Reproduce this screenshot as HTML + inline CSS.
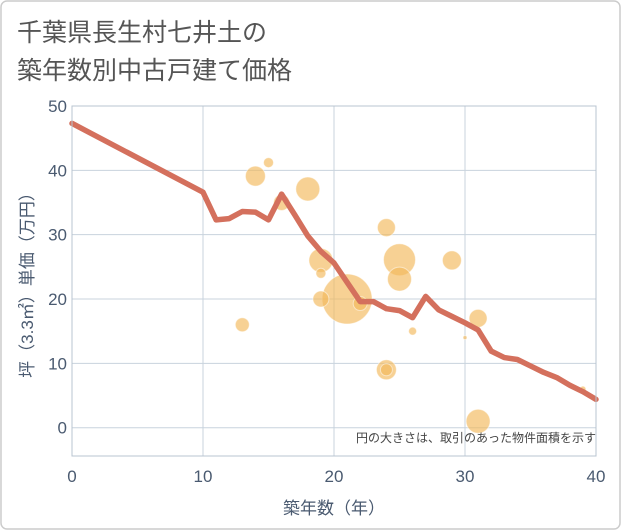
<!DOCTYPE html>
<html><head><meta charset="utf-8"><style>
body{margin:0;background:#fff;}
svg{display:block;font-family:"Liberation Sans","Noto Sans CJK JP",sans-serif;}
</style></head><body>
<svg id="chart" width="621" height="530" viewBox="0 0 621 530">
<rect x="1" y="1" width="619" height="528" rx="6" fill="#fff" stroke="#ccc" stroke-width="1.5"/>
<text x="17" y="41" font-size="25" fill="#555">千葉県長生村七井土の</text>
<text x="17" y="79" font-size="25" fill="#555">築年数別中古戸建て価格</text>
<g id="grid"></g>
<g id="bubbles"></g>
<g id="line"></g>
<g id="axes"></g>
<text x="596" y="442" font-size="12" fill="#444" text-anchor="end">円の大きさは、取引のあった物件面積を示す</text>
<text x="334" y="514" font-size="17" fill="#4a5a70" text-anchor="middle">築年数（年）</text>
<text transform="translate(33,281) rotate(-90)" font-size="17" fill="#4a5a70" text-anchor="middle">坪（3.3㎡）単価（万円）</text>
</svg>
<script>
const xTicks=[0,10,20,30,40];
const yTicks=[0,10,20,30,40,50];
const lineX=[0,10,11,12,13,14,15,16,17,18,19,20,21,22,23,24,25,26,27,28,29,30,31,32,33,34,35,36,37,38,39,40];
const lineY=[47.3,36.6,32.3,32.5,33.6,33.5,32.3,36.3,33.1,29.8,27.4,25.6,22.6,19.6,19.6,18.5,18.2,17.1,20.4,18.3,17.3,16.3,15.2,11.9,10.9,10.6,9.6,8.6,7.8,6.6,5.6,4.4];
const bubX=[14,15,18,16,24,25,25,19,19,29,21,19,22,13,26,30,31,24,24,31,39];
const bubY=[39.1,41.2,37.1,35,31.1,26.1,23.1,26,24,26,20,20,19.3,16,15,14,17,9,9,1,6];
const bubR=[10,5,12,8,9,16,12,12,5,9.5,25,8,7,7,4,2,9,10,6,12,3];
const X0=72,X1=596,Y0=456,Y1=106,xMin=0,xMax=40,yMin=-4.4,yMax=50;
const sx=v=>X0+(v-xMin)/(xMax-xMin)*(X1-X0);
const sy=v=>Y0-(v-yMin)/(yMax-yMin)*(Y0-Y1);
const NS="http://www.w3.org/2000/svg";
function mk(t,a,p){const e=document.createElementNS(NS,t);for(const k in a)e.setAttribute(k,a[k]);p.appendChild(e);return e;}
const grid=document.getElementById('grid'),axes=document.getElementById('axes');
xTicks.forEach(v=>{
 const l=mk('line',{x1:sx(v),x2:sx(v),y1:Y1,y2:Y0,stroke:'#c8d3dd','stroke-width':1},grid);
 
 
 const t=mk('text',{x:sx(v),y:Y0+26,'font-size':17,fill:'#4a5a70','text-anchor':'middle'},axes);
 t.textContent=v;
 
 
});
yTicks.forEach(v=>{
 const l=mk('line',{x1:X0,x2:X1,y1:sy(v),y2:sy(v),stroke:'#c8d3dd','stroke-width':1},grid);
 
 
 const t=mk('text',{x:X0-5,y:sy(v)+6,'font-size':17,fill:'#4a5a70','text-anchor':'end'},axes);
 t.textContent=v;
 
 
});
const box=mk('rect',{x:X0,y:Y1,width:X1-X0,height:Y0-Y1,fill:'none',stroke:'#b8c4d0','stroke-width':1},axes);


const bg=document.getElementById('bubbles');
bubX.forEach((x,i)=>{
 const c=mk('circle',{cx:sx(x),cy:sy(bubY[i]),r:bubR[i],fill:'#f2b85a','fill-opacity':0.65,stroke:'#fff','stroke-opacity':0.5,'stroke-width':1},bg);
 
 
});
const pts=lineX.map((x,i)=>sx(x)+','+sy(lineY[i])).join(' ');
const pl=mk('polyline',{points:pts,fill:'none',stroke:'#d4705d','stroke-width':5.5,'stroke-linejoin':'round','stroke-linecap':'round'},document.getElementById('line'));


</script>
</body></html>
